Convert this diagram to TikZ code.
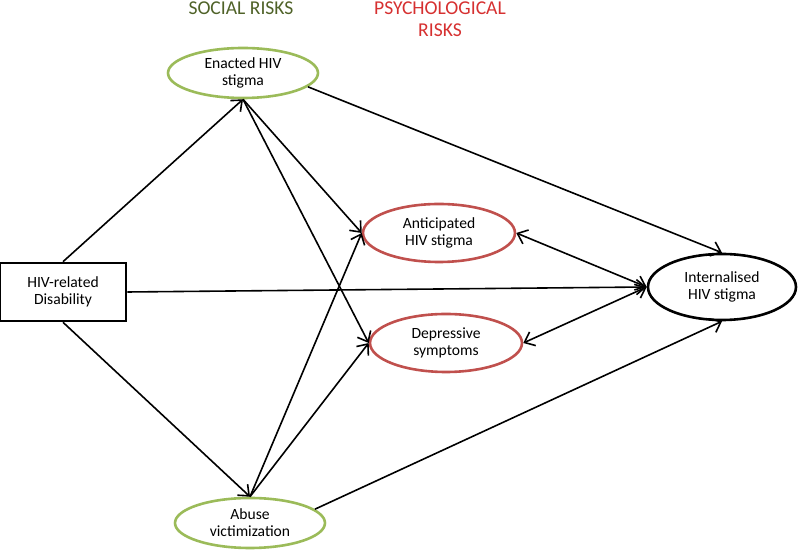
\documentclass[tikz,border=0pt]{standalone}
\usepackage{fontspec}
\setmainfont{Carlito}
\usepackage{tikz}
\usetikzlibrary{positioning,arrows.meta,shapes,calc}
\definecolor{socgreen}{RGB}{155,187,89}
\definecolor{psyred}{RGB}{192,80,77}
\definecolor{socdark}{RGB}{79,98,40}
\definecolor{psydark}{RGB}{214,48,48}

\begin{document}
\begin{tikzpicture}[x=0.5pt,y=-0.5pt,
  every node/.style={font=\fontsize{7.8}{8.6}\selectfont,align=center,inner sep=0pt},
  social/.style={ellipse,draw=socgreen,line width=1.3pt,minimum width=75pt,minimum height=25pt},
  psych/.style={ellipse,draw=psyred,line width=1.3pt,minimum width=76pt,minimum height=29pt},
  outcome/.style={ellipse,draw,line width=1.3pt,minimum width=74pt,minimum height=33pt},
  expo/.style={rectangle,draw,line width=1.3pt,minimum width=63pt,minimum height=29pt},
  head/.style={font=\fontsize{9.8}{11}\selectfont},
  path/.style={line width=0.8pt,-{Straight Barb[length=4.5pt,width=7.5pt]}},
  both/.style={line width=0.8pt,{Straight Barb[length=4.5pt,width=7.5pt]}-{Straight Barb[length=4.5pt,width=7.5pt]}}]
  \useasboundingbox (0,0) rectangle (800,555);
  \node[head,text=socdark] (soc) at (241,8) {SOCIAL RISKS};
  \node[head,text=psydark] (psy) at (440,19) {PSYCHOLOGICAL\\RISKS};
  \node[expo] (dis) at (63,292) {HIV-related\\Disability};
  \node[social] (enact) at (243,73) {Enacted HIV\\stigma};
  \node[social] (abuse) at (250,523) {Abuse\\victimization};
  \node[psych] (antic) at (439,233) {Anticipated\\HIV stigma};
  \node[psych] (depr) at (446,343) {Depressive\\symptoms};
  \node[outcome] (intern) at (722,287) {Internalised\\HIV stigma};
  \draw[path] (dis.north) -- (enact.south);
  \draw[path] (dis.south) -- (abuse.north);
  \draw[path] (dis.east) -- (intern.west);
  \draw[path] (enact.south) -- (antic.west);
  \draw[path] (enact.south) -- (depr.west);
  \draw[path] (abuse.north) -- (antic.west);
  \draw[path] (abuse.north) -- (depr.west);
  \draw[path] (enact.-12) -- (intern.north);
  \draw[path] (abuse.12) -- (intern.south);
  \draw[both] (antic.east) -- (intern.west);
  \draw[both] (depr.east) -- (intern.west);
\end{tikzpicture}
\end{document}
